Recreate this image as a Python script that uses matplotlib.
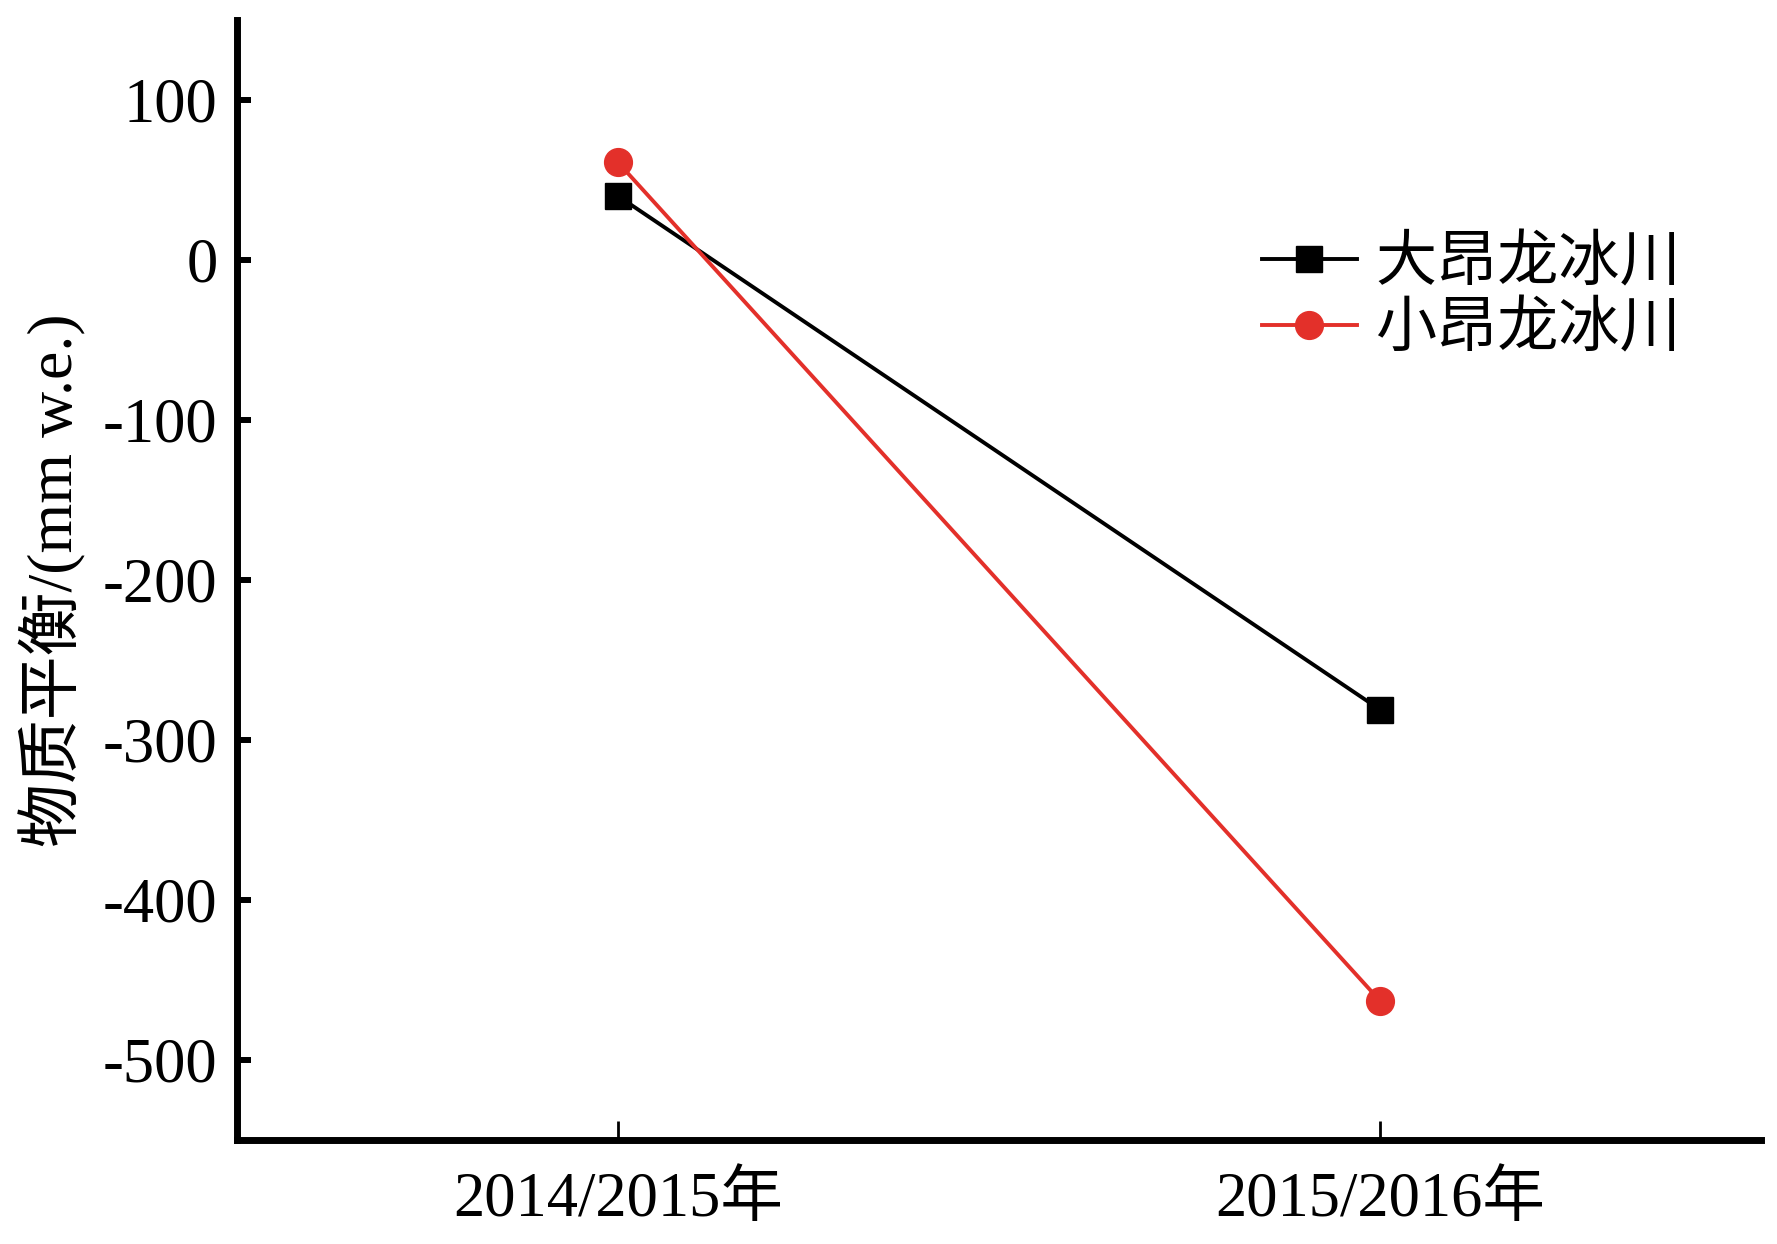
import matplotlib
matplotlib.use("Agg")
import matplotlib.pyplot as plt

# data
years = ["2014/2015年", "2015/2016年"]
big_glacier = [40, -281]      # 大昂龙冰川
small_glacier = [61, -463]    # 小昂龙冰川
y_ticks = [100, 0, -100, -200, -300, -400, -500]

plt.rcParams['font.family'] = ['Liberation Serif', 'Noto Sans CJK SC']
plt.rcParams['axes.unicode_minus'] = False

fig = plt.figure(figsize=(17.77, 12.44), dpi=100)
ax = fig.add_axes([237 / 1777, 1 - 1140 / 1244, (1761 - 237) / 1777, (1140 - 20) / 1244])

x = [1, 2]
ax.plot(x, big_glacier, color="black", lw=2.8, marker="s", ms=19,
        label="大昂龙冰川")
ax.plot(x, small_glacier, color="#e3302a", lw=2.8, marker="o", ms=20,
        label="小昂龙冰川")

ax.set_xlim(0.5, 2.5)
ax.set_ylim(-550, 150)
ax.set_xticks(x)
ax.set_xticklabels(years)
ax.set_yticks(y_ticks)
ax.set_yticklabels([str(v) for v in y_ticks])

for s in ["top", "right"]:
    ax.spines[s].set_visible(False)
for s in ["left", "bottom"]:
    ax.spines[s].set_linewidth(5)

ax.tick_params(axis="y", direction="in", length=10, width=4.3, pad=14, labelsize=45)
ax.tick_params(axis="x", direction="in", length=14, width=2, pad=23, labelsize=45)

ax.set_ylabel("物质平衡/(mm w.e.)", fontsize=46, labelpad=12)

leg = ax.legend(loc="upper left", bbox_to_anchor=(1262 / 1777, 1 - 236 / 1244),
                bbox_transform=fig.transFigure, frameon=False, fontsize=44,
                handlelength=1.55, handletextpad=0.3, labelspacing=0.15,
                borderpad=0, borderaxespad=0)

fig.savefig("out.png", dpi=100)
